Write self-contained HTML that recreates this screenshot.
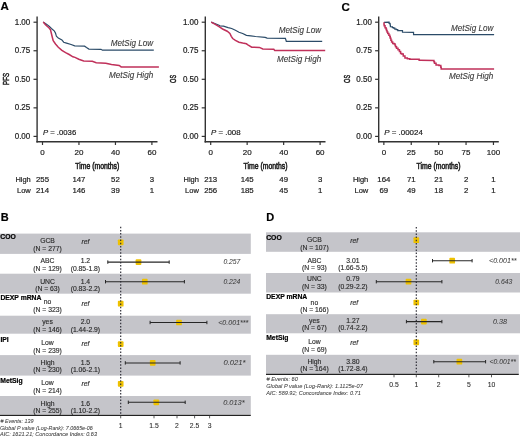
<!DOCTYPE html>
<html><head><meta charset="utf-8"><style>
html,body{margin:0;padding:0;background:#fff;}
svg{display:block;font-family:"Liberation Sans", sans-serif;will-change:transform;}
text{stroke-width:0.2px;}
</style></head><body>
<svg width="520" height="438" viewBox="0 0 520 438" fill="#222">
<text x="0.40" y="10.30" font-size="11.5" text-anchor="start" font-weight="bold" fill="#000" stroke="#000">A</text>
<text x="341.50" y="10.70" font-size="11.5" text-anchor="start" font-weight="bold" fill="#000" stroke="#000">C</text>
<text x="0.70" y="221.00" font-size="11" text-anchor="start" font-weight="bold" fill="#000" stroke="#000">B</text>
<text x="266.30" y="221.00" font-size="11" text-anchor="start" font-weight="bold" fill="#000" stroke="#000">D</text>
<line x1="37.10" y1="16.60" x2="37.10" y2="142.40" stroke="#333" stroke-width="1.4"/>
<line x1="36.40" y1="141.70" x2="157.50" y2="141.70" stroke="#333" stroke-width="1.4"/>
<line x1="33.50" y1="22.20" x2="37.10" y2="22.20" stroke="#333" stroke-width="1.2"/>
<text x="30.30" y="24.70" font-size="8.2" text-anchor="end" fill="#222" stroke="#222" textLength="15.60" lengthAdjust="spacingAndGlyphs">1.00</text>
<line x1="33.50" y1="50.75" x2="37.10" y2="50.75" stroke="#333" stroke-width="1.2"/>
<text x="30.30" y="53.25" font-size="8.2" text-anchor="end" fill="#222" stroke="#222" textLength="15.60" lengthAdjust="spacingAndGlyphs">0.75</text>
<line x1="33.50" y1="79.30" x2="37.10" y2="79.30" stroke="#333" stroke-width="1.2"/>
<text x="30.30" y="81.80" font-size="8.2" text-anchor="end" fill="#222" stroke="#222" textLength="15.60" lengthAdjust="spacingAndGlyphs">0.50</text>
<line x1="33.50" y1="107.85" x2="37.10" y2="107.85" stroke="#333" stroke-width="1.2"/>
<text x="30.30" y="110.35" font-size="8.2" text-anchor="end" fill="#222" stroke="#222" textLength="15.60" lengthAdjust="spacingAndGlyphs">0.25</text>
<line x1="33.50" y1="136.40" x2="37.10" y2="136.40" stroke="#333" stroke-width="1.2"/>
<text x="30.30" y="138.90" font-size="8.2" text-anchor="end" fill="#222" stroke="#222" textLength="15.60" lengthAdjust="spacingAndGlyphs">0.00</text>
<line x1="42.50" y1="141.70" x2="42.50" y2="145.00" stroke="#333" stroke-width="1.2"/>
<text x="42.50" y="155.40" font-size="8.1" text-anchor="middle" fill="#222" stroke="#222" textLength="4.45" lengthAdjust="spacingAndGlyphs">0</text>
<line x1="78.95" y1="141.70" x2="78.95" y2="145.00" stroke="#333" stroke-width="1.2"/>
<text x="78.95" y="155.40" font-size="8.1" text-anchor="middle" fill="#222" stroke="#222" textLength="8.90" lengthAdjust="spacingAndGlyphs">20</text>
<line x1="115.45" y1="141.70" x2="115.45" y2="145.00" stroke="#333" stroke-width="1.2"/>
<text x="115.45" y="155.40" font-size="8.1" text-anchor="middle" fill="#222" stroke="#222" textLength="8.90" lengthAdjust="spacingAndGlyphs">40</text>
<line x1="151.90" y1="141.70" x2="151.90" y2="145.00" stroke="#333" stroke-width="1.2"/>
<text x="151.90" y="155.40" font-size="8.1" text-anchor="middle" fill="#222" stroke="#222" textLength="8.90" lengthAdjust="spacingAndGlyphs">60</text>
<text x="0" y="0" font-size="9.8" text-anchor="middle" fill="#222" stroke="#222" style="stroke-width:0.5px" textLength="12.00" lengthAdjust="spacingAndGlyphs" transform="translate(8.50,78.9) rotate(-90)">PFS</text>
<text x="97.30" y="168.60" font-size="9.4" text-anchor="middle" fill="#222" stroke="#222" textLength="44.00" lengthAdjust="spacingAndGlyphs" style="stroke-width:0.6px">Time (months)</text>
<text x="42.90" y="134.8" font-size="8.0" fill="#222" stroke="#222" textLength="33.30" lengthAdjust="spacingAndGlyphs"><tspan font-style="italic">P</tspan> = .0036</text>
<text x="30.80" y="181.50" font-size="7.7" text-anchor="end" fill="#222" stroke="#222" textLength="15.40" lengthAdjust="spacingAndGlyphs">High</text>
<text x="30.80" y="193.00" font-size="7.7" text-anchor="end" fill="#222" stroke="#222" textLength="13.80" lengthAdjust="spacingAndGlyphs">Low</text>
<text x="42.50" y="181.50" font-size="7.7" text-anchor="middle" fill="#222" stroke="#222" textLength="13.05" lengthAdjust="spacingAndGlyphs">255</text>
<text x="42.50" y="193.00" font-size="7.7" text-anchor="middle" fill="#222" stroke="#222" textLength="13.05" lengthAdjust="spacingAndGlyphs">214</text>
<text x="78.95" y="181.50" font-size="7.7" text-anchor="middle" fill="#222" stroke="#222" textLength="13.05" lengthAdjust="spacingAndGlyphs">147</text>
<text x="78.95" y="193.00" font-size="7.7" text-anchor="middle" fill="#222" stroke="#222" textLength="13.05" lengthAdjust="spacingAndGlyphs">146</text>
<text x="115.45" y="181.50" font-size="7.7" text-anchor="middle" fill="#222" stroke="#222" textLength="8.70" lengthAdjust="spacingAndGlyphs">52</text>
<text x="115.45" y="193.00" font-size="7.7" text-anchor="middle" fill="#222" stroke="#222" textLength="8.70" lengthAdjust="spacingAndGlyphs">39</text>
<text x="151.90" y="181.50" font-size="7.7" text-anchor="middle" fill="#222" stroke="#222" textLength="4.35" lengthAdjust="spacingAndGlyphs">3</text>
<text x="151.90" y="193.00" font-size="7.7" text-anchor="middle" fill="#222" stroke="#222" textLength="4.35" lengthAdjust="spacingAndGlyphs">1</text>
<line x1="205.30" y1="16.60" x2="205.30" y2="142.40" stroke="#333" stroke-width="1.4"/>
<line x1="204.60" y1="141.70" x2="325.50" y2="141.70" stroke="#333" stroke-width="1.4"/>
<line x1="201.70" y1="22.20" x2="205.30" y2="22.20" stroke="#333" stroke-width="1.2"/>
<text x="198.50" y="24.70" font-size="8.2" text-anchor="end" fill="#222" stroke="#222" textLength="15.60" lengthAdjust="spacingAndGlyphs">1.00</text>
<line x1="201.70" y1="50.75" x2="205.30" y2="50.75" stroke="#333" stroke-width="1.2"/>
<text x="198.50" y="53.25" font-size="8.2" text-anchor="end" fill="#222" stroke="#222" textLength="15.60" lengthAdjust="spacingAndGlyphs">0.75</text>
<line x1="201.70" y1="79.30" x2="205.30" y2="79.30" stroke="#333" stroke-width="1.2"/>
<text x="198.50" y="81.80" font-size="8.2" text-anchor="end" fill="#222" stroke="#222" textLength="15.60" lengthAdjust="spacingAndGlyphs">0.50</text>
<line x1="201.70" y1="107.85" x2="205.30" y2="107.85" stroke="#333" stroke-width="1.2"/>
<text x="198.50" y="110.35" font-size="8.2" text-anchor="end" fill="#222" stroke="#222" textLength="15.60" lengthAdjust="spacingAndGlyphs">0.25</text>
<line x1="201.70" y1="136.40" x2="205.30" y2="136.40" stroke="#333" stroke-width="1.2"/>
<text x="198.50" y="138.90" font-size="8.2" text-anchor="end" fill="#222" stroke="#222" textLength="15.60" lengthAdjust="spacingAndGlyphs">0.00</text>
<line x1="210.70" y1="141.70" x2="210.70" y2="145.00" stroke="#333" stroke-width="1.2"/>
<text x="210.70" y="155.40" font-size="8.1" text-anchor="middle" fill="#222" stroke="#222" textLength="4.45" lengthAdjust="spacingAndGlyphs">0</text>
<line x1="247.15" y1="141.70" x2="247.15" y2="145.00" stroke="#333" stroke-width="1.2"/>
<text x="247.15" y="155.40" font-size="8.1" text-anchor="middle" fill="#222" stroke="#222" textLength="8.90" lengthAdjust="spacingAndGlyphs">20</text>
<line x1="283.65" y1="141.70" x2="283.65" y2="145.00" stroke="#333" stroke-width="1.2"/>
<text x="283.65" y="155.40" font-size="8.1" text-anchor="middle" fill="#222" stroke="#222" textLength="8.90" lengthAdjust="spacingAndGlyphs">40</text>
<line x1="320.10" y1="141.70" x2="320.10" y2="145.00" stroke="#333" stroke-width="1.2"/>
<text x="320.10" y="155.40" font-size="8.1" text-anchor="middle" fill="#222" stroke="#222" textLength="8.90" lengthAdjust="spacingAndGlyphs">60</text>
<text x="0" y="0" font-size="9.8" text-anchor="middle" fill="#222" stroke="#222" style="stroke-width:0.5px" textLength="8.00" lengthAdjust="spacingAndGlyphs" transform="translate(176.40,78.9) rotate(-90)">OS</text>
<text x="265.50" y="168.60" font-size="9.4" text-anchor="middle" fill="#222" stroke="#222" textLength="44.00" lengthAdjust="spacingAndGlyphs" style="stroke-width:0.6px">Time (months)</text>
<text x="211.10" y="134.8" font-size="8.0" fill="#222" stroke="#222" textLength="29.50" lengthAdjust="spacingAndGlyphs"><tspan font-style="italic">P</tspan> = .008</text>
<text x="198.90" y="181.50" font-size="7.7" text-anchor="end" fill="#222" stroke="#222" textLength="15.40" lengthAdjust="spacingAndGlyphs">High</text>
<text x="198.90" y="193.00" font-size="7.7" text-anchor="end" fill="#222" stroke="#222" textLength="13.80" lengthAdjust="spacingAndGlyphs">Low</text>
<text x="210.70" y="181.50" font-size="7.7" text-anchor="middle" fill="#222" stroke="#222" textLength="13.05" lengthAdjust="spacingAndGlyphs">213</text>
<text x="210.70" y="193.00" font-size="7.7" text-anchor="middle" fill="#222" stroke="#222" textLength="13.05" lengthAdjust="spacingAndGlyphs">256</text>
<text x="247.15" y="181.50" font-size="7.7" text-anchor="middle" fill="#222" stroke="#222" textLength="13.05" lengthAdjust="spacingAndGlyphs">145</text>
<text x="247.15" y="193.00" font-size="7.7" text-anchor="middle" fill="#222" stroke="#222" textLength="13.05" lengthAdjust="spacingAndGlyphs">185</text>
<text x="283.65" y="181.50" font-size="7.7" text-anchor="middle" fill="#222" stroke="#222" textLength="8.70" lengthAdjust="spacingAndGlyphs">49</text>
<text x="283.65" y="193.00" font-size="7.7" text-anchor="middle" fill="#222" stroke="#222" textLength="8.70" lengthAdjust="spacingAndGlyphs">45</text>
<text x="320.10" y="181.50" font-size="7.7" text-anchor="middle" fill="#222" stroke="#222" textLength="4.35" lengthAdjust="spacingAndGlyphs">3</text>
<text x="320.10" y="193.00" font-size="7.7" text-anchor="middle" fill="#222" stroke="#222" textLength="4.35" lengthAdjust="spacingAndGlyphs">1</text>
<line x1="378.70" y1="16.60" x2="378.70" y2="142.40" stroke="#333" stroke-width="1.4"/>
<line x1="378.00" y1="141.70" x2="498.80" y2="141.70" stroke="#333" stroke-width="1.4"/>
<line x1="375.10" y1="22.20" x2="378.70" y2="22.20" stroke="#333" stroke-width="1.2"/>
<text x="371.90" y="24.70" font-size="8.2" text-anchor="end" fill="#222" stroke="#222" textLength="15.60" lengthAdjust="spacingAndGlyphs">1.00</text>
<line x1="375.10" y1="50.75" x2="378.70" y2="50.75" stroke="#333" stroke-width="1.2"/>
<text x="371.90" y="53.25" font-size="8.2" text-anchor="end" fill="#222" stroke="#222" textLength="15.60" lengthAdjust="spacingAndGlyphs">0.75</text>
<line x1="375.10" y1="79.30" x2="378.70" y2="79.30" stroke="#333" stroke-width="1.2"/>
<text x="371.90" y="81.80" font-size="8.2" text-anchor="end" fill="#222" stroke="#222" textLength="15.60" lengthAdjust="spacingAndGlyphs">0.50</text>
<line x1="375.10" y1="107.85" x2="378.70" y2="107.85" stroke="#333" stroke-width="1.2"/>
<text x="371.90" y="110.35" font-size="8.2" text-anchor="end" fill="#222" stroke="#222" textLength="15.60" lengthAdjust="spacingAndGlyphs">0.25</text>
<line x1="375.10" y1="136.40" x2="378.70" y2="136.40" stroke="#333" stroke-width="1.2"/>
<text x="371.90" y="138.90" font-size="8.2" text-anchor="end" fill="#222" stroke="#222" textLength="15.60" lengthAdjust="spacingAndGlyphs">0.00</text>
<line x1="383.85" y1="141.70" x2="383.85" y2="145.00" stroke="#333" stroke-width="1.2"/>
<text x="383.85" y="155.40" font-size="8.1" text-anchor="middle" fill="#222" stroke="#222" textLength="4.45" lengthAdjust="spacingAndGlyphs">0</text>
<line x1="411.25" y1="141.70" x2="411.25" y2="145.00" stroke="#333" stroke-width="1.2"/>
<text x="411.25" y="155.40" font-size="8.1" text-anchor="middle" fill="#222" stroke="#222" textLength="8.90" lengthAdjust="spacingAndGlyphs">25</text>
<line x1="438.65" y1="141.70" x2="438.65" y2="145.00" stroke="#333" stroke-width="1.2"/>
<text x="438.65" y="155.40" font-size="8.1" text-anchor="middle" fill="#222" stroke="#222" textLength="8.90" lengthAdjust="spacingAndGlyphs">50</text>
<line x1="466.05" y1="141.70" x2="466.05" y2="145.00" stroke="#333" stroke-width="1.2"/>
<text x="466.05" y="155.40" font-size="8.1" text-anchor="middle" fill="#222" stroke="#222" textLength="8.90" lengthAdjust="spacingAndGlyphs">75</text>
<line x1="493.45" y1="141.70" x2="493.45" y2="145.00" stroke="#333" stroke-width="1.2"/>
<text x="493.45" y="155.40" font-size="8.1" text-anchor="middle" fill="#222" stroke="#222" textLength="13.35" lengthAdjust="spacingAndGlyphs">100</text>
<text x="0" y="0" font-size="9.8" text-anchor="middle" fill="#222" stroke="#222" style="stroke-width:0.5px" textLength="8.00" lengthAdjust="spacingAndGlyphs" transform="translate(349.50,78.9) rotate(-90)">OS</text>
<text x="438.60" y="168.60" font-size="9.4" text-anchor="middle" fill="#222" stroke="#222" textLength="44.00" lengthAdjust="spacingAndGlyphs" style="stroke-width:0.6px">Time (months)</text>
<text x="384.25" y="134.8" font-size="8.0" fill="#222" stroke="#222" textLength="38.60" lengthAdjust="spacingAndGlyphs"><tspan font-style="italic">P</tspan> = .00024</text>
<text x="368.30" y="181.50" font-size="7.7" text-anchor="end" fill="#222" stroke="#222" textLength="15.40" lengthAdjust="spacingAndGlyphs">High</text>
<text x="368.30" y="193.00" font-size="7.7" text-anchor="end" fill="#222" stroke="#222" textLength="13.80" lengthAdjust="spacingAndGlyphs">Low</text>
<text x="383.85" y="181.50" font-size="7.7" text-anchor="middle" fill="#222" stroke="#222" textLength="13.05" lengthAdjust="spacingAndGlyphs">164</text>
<text x="383.85" y="193.00" font-size="7.7" text-anchor="middle" fill="#222" stroke="#222" textLength="8.70" lengthAdjust="spacingAndGlyphs">69</text>
<text x="411.25" y="181.50" font-size="7.7" text-anchor="middle" fill="#222" stroke="#222" textLength="8.70" lengthAdjust="spacingAndGlyphs">71</text>
<text x="411.25" y="193.00" font-size="7.7" text-anchor="middle" fill="#222" stroke="#222" textLength="8.70" lengthAdjust="spacingAndGlyphs">49</text>
<text x="438.65" y="181.50" font-size="7.7" text-anchor="middle" fill="#222" stroke="#222" textLength="8.70" lengthAdjust="spacingAndGlyphs">21</text>
<text x="438.65" y="193.00" font-size="7.7" text-anchor="middle" fill="#222" stroke="#222" textLength="8.70" lengthAdjust="spacingAndGlyphs">18</text>
<text x="466.05" y="181.50" font-size="7.7" text-anchor="middle" fill="#222" stroke="#222" textLength="4.35" lengthAdjust="spacingAndGlyphs">2</text>
<text x="466.05" y="193.00" font-size="7.7" text-anchor="middle" fill="#222" stroke="#222" textLength="4.35" lengthAdjust="spacingAndGlyphs">2</text>
<text x="493.45" y="181.50" font-size="7.7" text-anchor="middle" fill="#222" stroke="#222" textLength="4.35" lengthAdjust="spacingAndGlyphs">1</text>
<text x="493.45" y="193.00" font-size="7.7" text-anchor="middle" fill="#222" stroke="#222" textLength="4.35" lengthAdjust="spacingAndGlyphs">1</text>
<polyline points="43.20,22.10 46.80,24.40 49.10,26.20 51.40,28.50 54.20,30.80 55.50,33.10 56.40,36.30 58.30,38.10 61.90,39.90 63.70,42.20 66.50,43.10 71.10,44.50 74.70,45.90 84.60,46.20 86.50,47.60 88.90,49.10 101.00,49.30 102.40,50.20 153.80,50.20" fill="none" stroke="#2b4b68" stroke-width="1.2" stroke-linejoin="miter"/>
<polyline points="211.20,22.10 219.00,25.30 219.90,25.80 223.50,26.20 228.10,27.60 231.70,28.50 235.40,30.30 239.00,32.20 242.70,33.50 246.40,35.40 250.80,35.90 255.60,36.50 265.20,37.40 267.10,38.10 285.40,38.40 286.30,41.30 322.20,41.30" fill="none" stroke="#2b4b68" stroke-width="1.2" stroke-linejoin="miter"/>
<polyline points="384.00,22.30 388.60,22.20 389.10,22.20 389.10,23.40 389.60,23.40 389.85,23.40 389.85,23.80 390.10,23.80 390.20,23.80 390.20,25.25 390.40,25.25 390.40,26.70 390.50,26.70 392.00,26.90 392.45,26.90 392.45,27.70 392.90,27.70 393.65,27.70 393.65,28.10 394.40,28.10 394.85,28.10 394.85,29.10 395.30,29.10 396.30,29.10 396.30,29.60 397.30,29.60 397.75,29.60 397.75,30.60 398.20,30.60 402.00,30.70 402.50,30.70 402.50,32.10 403.00,32.10 413.10,32.30 413.55,32.30 413.55,34.60 414.00,34.60 494.10,34.70" fill="none" stroke="#2b4b68" stroke-width="1.2" stroke-linejoin="miter"/>
<polyline points="43.20,22.10 45.50,24.80 49.10,28.00 50.50,29.90 51.40,33.50 52.30,37.20 53.20,40.80 55.50,44.00 58.30,47.20 61.90,50.40 65.60,52.70 69.20,54.50 72.90,56.80 75.00,57.40 78.80,59.20 83.70,60.90 92.30,61.30 96.20,62.80 105.80,63.20 111.50,64.40 119.20,65.40 121.20,66.90 158.90,66.90" fill="none" stroke="#c0305a" stroke-width="1.5" stroke-linejoin="miter"/>
<polyline points="211.20,22.10 215.30,24.40 219.00,26.70 222.60,29.00 227.20,31.20 229.90,33.50 231.30,36.30 232.70,38.50 235.40,40.40 239.00,42.20 242.70,43.10 246.40,43.80 247.90,44.80 251.70,47.20 259.40,47.40 262.80,49.00 273.80,49.20 274.80,50.60 325.20,50.60" fill="none" stroke="#c0305a" stroke-width="1.5" stroke-linejoin="miter"/>
<polyline points="384.00,22.30 384.00,24.30 384.15,24.30 384.15,25.80 384.30,25.80 385.05,25.80 385.05,27.70 385.80,27.70 386.02,27.70 386.02,29.10 386.48,29.10 386.48,30.50 386.70,30.50 387.05,30.50 387.05,31.95 387.75,31.95 387.75,33.40 388.10,33.40 388.85,33.40 388.85,35.30 389.60,35.30 389.83,35.30 389.83,36.75 390.27,36.75 390.27,38.20 390.50,38.20 390.88,38.20 390.88,40.15 391.62,40.15 391.62,42.10 392.00,42.10 392.70,42.10 392.70,43.50 393.40,43.50 394.15,43.50 394.15,44.00 394.90,44.00 395.12,44.00 395.12,45.40 395.57,45.40 395.57,46.80 395.80,46.80 396.55,46.80 396.55,48.30 397.30,48.30 398.00,48.30 398.00,49.70 398.70,49.70 399.40,49.70 399.40,51.60 400.10,51.60 400.60,51.60 400.60,53.60 401.10,53.60 401.80,53.60 401.80,54.00 402.50,54.00 403.25,54.00 403.25,56.00 404.00,56.00 404.95,56.00 404.95,57.90 405.90,57.90 407.35,57.90 407.35,58.80 408.80,58.80 409.75,58.80 409.75,59.20 410.70,59.20 417.90,59.20 419.15,59.20 419.15,60.20 420.40,60.20 433.60,60.40 433.90,60.40 433.90,61.85 434.50,61.85 434.50,63.30 434.80,63.30 436.05,63.30 436.05,64.90 437.30,64.90 438.95,64.90 438.95,65.60 440.60,65.60 440.80,65.60 440.80,67.25 441.20,67.25 441.20,68.90 441.40,68.90 494.10,68.90" fill="none" stroke="#c0305a" stroke-width="1.5" stroke-linejoin="miter"/>
<text x="153.20" y="46.00" font-size="8.3" text-anchor="end" font-style="italic" fill="#383838" stroke="#383838" textLength="42.40" lengthAdjust="spacingAndGlyphs" style="stroke-width:0.1px">MetSig Low</text>
<text x="153.20" y="78.30" font-size="8.3" text-anchor="end" font-style="italic" fill="#383838" stroke="#383838" textLength="44.20" lengthAdjust="spacingAndGlyphs" style="stroke-width:0.1px">MetSig High</text>
<text x="321.20" y="32.60" font-size="8.3" text-anchor="end" font-style="italic" fill="#383838" stroke="#383838" textLength="42.40" lengthAdjust="spacingAndGlyphs" style="stroke-width:0.1px">MetSig Low</text>
<text x="321.20" y="62.40" font-size="8.3" text-anchor="end" font-style="italic" fill="#383838" stroke="#383838" textLength="44.20" lengthAdjust="spacingAndGlyphs" style="stroke-width:0.1px">MetSig High</text>
<text x="493.30" y="30.50" font-size="8.3" text-anchor="end" font-style="italic" fill="#383838" stroke="#383838" textLength="42.40" lengthAdjust="spacingAndGlyphs" style="stroke-width:0.1px">MetSig Low</text>
<text x="493.30" y="78.90" font-size="8.3" text-anchor="end" font-style="italic" fill="#383838" stroke="#383838" textLength="44.20" lengthAdjust="spacingAndGlyphs" style="stroke-width:0.1px">MetSig High</text>
<rect x="0.00" y="233.60" width="250.80" height="20.30" fill="#c5c5ca"/>
<rect x="0.00" y="273.70" width="250.80" height="20.00" fill="#c5c5ca"/>
<rect x="0.00" y="315.70" width="250.80" height="18.00" fill="#c5c5ca"/>
<rect x="0.00" y="355.10" width="250.80" height="20.50" fill="#c5c5ca"/>
<rect x="0.00" y="396.00" width="250.80" height="18.60" fill="#c5c5ca"/>
<text x="47.50" y="243.00" font-size="6.8" text-anchor="middle" fill="#2a2a2a" stroke="#2a2a2a" style="stroke-width:0.14px">GCB</text>
<text x="47.50" y="250.90" font-size="6.8" text-anchor="middle" fill="#2a2a2a" stroke="#2a2a2a" style="stroke-width:0.14px">(N = 277)</text>
<text x="85.40" y="244.20" font-size="6.8" text-anchor="middle" font-style="italic" fill="#2a2a2a" stroke="#2a2a2a" style="stroke-width:0.14px">ref</text>
<rect x="117.85" y="239.45" width="5.7" height="5.7" rx="0.9" fill="#eec100"/>
<text x="47.50" y="263.20" font-size="6.8" text-anchor="middle" fill="#2a2a2a" stroke="#2a2a2a" style="stroke-width:0.14px">ABC</text>
<text x="47.50" y="270.80" font-size="6.8" text-anchor="middle" fill="#2a2a2a" stroke="#2a2a2a" style="stroke-width:0.14px">(N = 129)</text>
<text x="85.40" y="263.20" font-size="6.8" text-anchor="middle" fill="#2a2a2a" stroke="#2a2a2a" style="stroke-width:0.14px">1.2</text>
<text x="85.40" y="270.80" font-size="6.8" text-anchor="middle" fill="#2a2a2a" stroke="#2a2a2a" style="stroke-width:0.14px">(0.85-1.8)</text>
<text x="223.40" y="264.30" font-size="6.6" text-anchor="start" font-style="italic" fill="#3c3c3c" stroke="#3c3c3c" textLength="17.00" lengthAdjust="spacingAndGlyphs" style="stroke-width:0.05px">0.257</text>
<rect x="135.65" y="259.25" width="5.7" height="5.7" rx="0.9" fill="#eec100"/>
<line x1="107.80" y1="262.10" x2="169.20" y2="262.10" stroke="#262626" stroke-width="1.05"/>
<line x1="107.80" y1="260.40" x2="107.80" y2="263.80" stroke="#262626" stroke-width="1.0"/>
<line x1="169.20" y1="260.40" x2="169.20" y2="263.80" stroke="#262626" stroke-width="1.0"/>
<text x="47.50" y="283.60" font-size="6.8" text-anchor="middle" fill="#2a2a2a" stroke="#2a2a2a" style="stroke-width:0.14px">UNC</text>
<text x="47.50" y="291.40" font-size="6.8" text-anchor="middle" fill="#2a2a2a" stroke="#2a2a2a" style="stroke-width:0.14px">(N = 63)</text>
<text x="85.40" y="283.60" font-size="6.8" text-anchor="middle" fill="#2a2a2a" stroke="#2a2a2a" style="stroke-width:0.14px">1.4</text>
<text x="85.40" y="291.40" font-size="6.8" text-anchor="middle" fill="#2a2a2a" stroke="#2a2a2a" style="stroke-width:0.14px">(0.83-2.2)</text>
<text x="223.40" y="283.90" font-size="6.6" text-anchor="start" font-style="italic" fill="#3c3c3c" stroke="#3c3c3c" textLength="17.00" lengthAdjust="spacingAndGlyphs" style="stroke-width:0.05px">0.224</text>
<rect x="141.95" y="278.85" width="5.7" height="5.7" rx="0.9" fill="#eec100"/>
<line x1="105.50" y1="281.70" x2="184.40" y2="281.70" stroke="#262626" stroke-width="1.05"/>
<line x1="105.50" y1="280.00" x2="105.50" y2="283.40" stroke="#262626" stroke-width="1.0"/>
<line x1="184.40" y1="280.00" x2="184.40" y2="283.40" stroke="#262626" stroke-width="1.0"/>
<text x="47.50" y="304.40" font-size="6.8" text-anchor="middle" fill="#2a2a2a" stroke="#2a2a2a" style="stroke-width:0.14px">no</text>
<text x="47.50" y="312.00" font-size="6.8" text-anchor="middle" fill="#2a2a2a" stroke="#2a2a2a" style="stroke-width:0.14px">(N = 323)</text>
<text x="85.40" y="305.60" font-size="6.8" text-anchor="middle" font-style="italic" fill="#2a2a2a" stroke="#2a2a2a" style="stroke-width:0.14px">ref</text>
<rect x="117.85" y="300.85" width="5.7" height="5.7" rx="0.9" fill="#eec100"/>
<text x="47.50" y="324.30" font-size="6.8" text-anchor="middle" fill="#2a2a2a" stroke="#2a2a2a" style="stroke-width:0.14px">yes</text>
<text x="47.50" y="331.80" font-size="6.8" text-anchor="middle" fill="#2a2a2a" stroke="#2a2a2a" style="stroke-width:0.14px">(N = 146)</text>
<text x="85.40" y="324.30" font-size="6.8" text-anchor="middle" fill="#2a2a2a" stroke="#2a2a2a" style="stroke-width:0.14px">2.0</text>
<text x="85.40" y="331.80" font-size="6.8" text-anchor="middle" fill="#2a2a2a" stroke="#2a2a2a" style="stroke-width:0.14px">(1.44-2.9)</text>
<text x="218.20" y="324.70" font-size="6.6" text-anchor="start" font-style="italic" fill="#3c3c3c" stroke="#3c3c3c" textLength="30.20" lengthAdjust="spacingAndGlyphs" style="stroke-width:0.05px">&lt;0.001***</text>
<rect x="176.15" y="319.65" width="5.7" height="5.7" rx="0.9" fill="#eec100"/>
<line x1="150.10" y1="322.50" x2="206.90" y2="322.50" stroke="#262626" stroke-width="1.05"/>
<line x1="150.10" y1="320.80" x2="150.10" y2="324.20" stroke="#262626" stroke-width="1.0"/>
<line x1="206.90" y1="320.80" x2="206.90" y2="324.20" stroke="#262626" stroke-width="1.0"/>
<text x="47.50" y="344.80" font-size="6.8" text-anchor="middle" fill="#2a2a2a" stroke="#2a2a2a" style="stroke-width:0.14px">Low</text>
<text x="47.50" y="352.60" font-size="6.8" text-anchor="middle" fill="#2a2a2a" stroke="#2a2a2a" style="stroke-width:0.14px">(N = 239)</text>
<text x="85.40" y="346.00" font-size="6.8" text-anchor="middle" font-style="italic" fill="#2a2a2a" stroke="#2a2a2a" style="stroke-width:0.14px">ref</text>
<rect x="117.85" y="341.25" width="5.7" height="5.7" rx="0.9" fill="#eec100"/>
<text x="47.50" y="364.60" font-size="6.8" text-anchor="middle" fill="#2a2a2a" stroke="#2a2a2a" style="stroke-width:0.14px">High</text>
<text x="47.50" y="372.20" font-size="6.8" text-anchor="middle" fill="#2a2a2a" stroke="#2a2a2a" style="stroke-width:0.14px">(N = 230)</text>
<text x="85.40" y="364.60" font-size="6.8" text-anchor="middle" fill="#2a2a2a" stroke="#2a2a2a" style="stroke-width:0.14px">1.5</text>
<text x="85.40" y="372.20" font-size="6.8" text-anchor="middle" fill="#2a2a2a" stroke="#2a2a2a" style="stroke-width:0.14px">(1.06-2.1)</text>
<text x="223.40" y="365.10" font-size="6.6" text-anchor="start" font-style="italic" fill="#3c3c3c" stroke="#3c3c3c" textLength="22.20" lengthAdjust="spacingAndGlyphs" style="stroke-width:0.05px">0.021*</text>
<rect x="149.85" y="360.05" width="5.7" height="5.7" rx="0.9" fill="#eec100"/>
<line x1="125.30" y1="362.90" x2="180.10" y2="362.90" stroke="#262626" stroke-width="1.05"/>
<line x1="125.30" y1="361.20" x2="125.30" y2="364.60" stroke="#262626" stroke-width="1.0"/>
<line x1="180.10" y1="361.20" x2="180.10" y2="364.60" stroke="#262626" stroke-width="1.0"/>
<text x="47.50" y="385.10" font-size="6.8" text-anchor="middle" fill="#2a2a2a" stroke="#2a2a2a" style="stroke-width:0.14px">Low</text>
<text x="47.50" y="393.00" font-size="6.8" text-anchor="middle" fill="#2a2a2a" stroke="#2a2a2a" style="stroke-width:0.14px">(N = 214)</text>
<text x="85.40" y="386.30" font-size="6.8" text-anchor="middle" font-style="italic" fill="#2a2a2a" stroke="#2a2a2a" style="stroke-width:0.14px">ref</text>
<rect x="117.85" y="380.95" width="5.7" height="5.7" rx="0.9" fill="#eec100"/>
<text x="47.50" y="405.60" font-size="6.8" text-anchor="middle" fill="#2a2a2a" stroke="#2a2a2a" style="stroke-width:0.14px">High</text>
<text x="47.50" y="413.20" font-size="6.8" text-anchor="middle" fill="#2a2a2a" stroke="#2a2a2a" style="stroke-width:0.14px">(N = 255)</text>
<text x="85.40" y="405.60" font-size="6.8" text-anchor="middle" fill="#2a2a2a" stroke="#2a2a2a" style="stroke-width:0.14px">1.6</text>
<text x="85.40" y="413.20" font-size="6.8" text-anchor="middle" fill="#2a2a2a" stroke="#2a2a2a" style="stroke-width:0.14px">(1.10-2.2)</text>
<text x="223.20" y="404.50" font-size="6.6" text-anchor="start" font-style="italic" fill="#3c3c3c" stroke="#3c3c3c" textLength="21.40" lengthAdjust="spacingAndGlyphs" style="stroke-width:0.05px">0.013*</text>
<rect x="153.45" y="399.45" width="5.7" height="5.7" rx="0.9" fill="#eec100"/>
<line x1="128.30" y1="402.30" x2="185.20" y2="402.30" stroke="#262626" stroke-width="1.05"/>
<line x1="128.30" y1="400.60" x2="128.30" y2="404.00" stroke="#262626" stroke-width="1.0"/>
<line x1="185.20" y1="400.60" x2="185.20" y2="404.00" stroke="#262626" stroke-width="1.0"/>
<line x1="120.70" y1="226.70" x2="120.70" y2="415.30" stroke="#2a2a33" stroke-width="1.15" stroke-dasharray="1.5 1.7"/>
<line x1="0.00" y1="415.30" x2="250.80" y2="415.30" stroke="#222" stroke-width="1.2"/>
<text x="0.30" y="239.20" font-size="6.8" text-anchor="start" font-weight="bold" fill="#000" stroke="#000">COO</text>
<text x="0.40" y="300.40" font-size="6.8" text-anchor="start" font-weight="bold" fill="#000" stroke="#000">DEXP mRNA</text>
<text x="0.40" y="341.80" font-size="6.8" text-anchor="start" font-weight="bold" fill="#000" stroke="#000">IPI</text>
<text x="0.30" y="382.50" font-size="6.8" text-anchor="start" font-weight="bold" fill="#000" stroke="#000">MetSig</text>
<line x1="120.70" y1="415.30" x2="120.70" y2="418.30" stroke="#333" stroke-width="0.8"/>
<text x="120.70" y="428.20" font-size="6.8" text-anchor="middle" fill="#2a2a2a" stroke="#2a2a2a" style="stroke-width:0.08px">1</text>
<line x1="154.00" y1="415.30" x2="154.00" y2="418.30" stroke="#333" stroke-width="0.8"/>
<text x="154.00" y="428.20" font-size="6.8" text-anchor="middle" fill="#2a2a2a" stroke="#2a2a2a" style="stroke-width:0.08px">1.5</text>
<line x1="177.00" y1="415.30" x2="177.00" y2="418.30" stroke="#333" stroke-width="0.8"/>
<text x="177.00" y="428.20" font-size="6.8" text-anchor="middle" fill="#2a2a2a" stroke="#2a2a2a" style="stroke-width:0.08px">2</text>
<line x1="194.60" y1="415.30" x2="194.60" y2="418.30" stroke="#333" stroke-width="0.8"/>
<text x="194.60" y="428.20" font-size="6.8" text-anchor="middle" fill="#2a2a2a" stroke="#2a2a2a" style="stroke-width:0.08px">2.5</text>
<line x1="209.60" y1="415.30" x2="209.60" y2="418.30" stroke="#333" stroke-width="0.8"/>
<text x="209.60" y="428.20" font-size="6.8" text-anchor="middle" fill="#2a2a2a" stroke="#2a2a2a" style="stroke-width:0.08px">3</text>
<text x="0.5" y="422.5" font-size="5.6" font-style="italic" fill="#3a3a3a" stroke="#3a3a3a" style="stroke-width:0.05px" textLength="33.0" lengthAdjust="spacingAndGlyphs"># Events: 139</text>
<text x="0.0" y="429.6" font-size="5.6" font-style="italic" fill="#3a3a3a" stroke="#3a3a3a" style="stroke-width:0.05px" textLength="92.8" lengthAdjust="spacingAndGlyphs">Global P value (Log-Rank): 7.0665e-06</text>
<text x="0.0" y="436.4" font-size="5.6" font-style="italic" fill="#3a3a3a" stroke="#3a3a3a" style="stroke-width:0.05px" textLength="97.0" lengthAdjust="spacingAndGlyphs">AIC: 1621.21; Concordance Index: 0.63</text>
<rect x="266.00" y="232.30" width="254.00" height="19.50" fill="#c5c5ca"/>
<rect x="266.00" y="273.00" width="254.00" height="19.50" fill="#c5c5ca"/>
<rect x="266.00" y="314.20" width="254.00" height="19.10" fill="#c5c5ca"/>
<rect x="266.00" y="354.80" width="252.80" height="19.00" fill="#c5c5ca"/>
<text x="314.40" y="242.30" font-size="6.8" text-anchor="middle" fill="#2a2a2a" stroke="#2a2a2a" style="stroke-width:0.14px">GCB</text>
<text x="314.40" y="250.00" font-size="6.8" text-anchor="middle" fill="#2a2a2a" stroke="#2a2a2a" style="stroke-width:0.14px">(N = 107)</text>
<text x="354.10" y="242.70" font-size="6.8" text-anchor="middle" font-style="italic" fill="#2a2a2a" stroke="#2a2a2a" style="stroke-width:0.14px">ref</text>
<rect x="413.45" y="237.35" width="5.7" height="5.7" rx="0.9" fill="#eec100"/>
<text x="314.40" y="262.50" font-size="6.8" text-anchor="middle" fill="#2a2a2a" stroke="#2a2a2a" style="stroke-width:0.14px">ABC</text>
<text x="314.40" y="269.60" font-size="6.8" text-anchor="middle" fill="#2a2a2a" stroke="#2a2a2a" style="stroke-width:0.14px">(N = 93)</text>
<text x="352.90" y="262.50" font-size="6.8" text-anchor="middle" fill="#2a2a2a" stroke="#2a2a2a" style="stroke-width:0.14px">3.01</text>
<text x="352.90" y="269.60" font-size="6.8" text-anchor="middle" fill="#2a2a2a" stroke="#2a2a2a" style="stroke-width:0.14px">(1.66-5.5)</text>
<text x="489.00" y="262.90" font-size="6.6" text-anchor="start" font-style="italic" fill="#3c3c3c" stroke="#3c3c3c" textLength="27.50" lengthAdjust="spacingAndGlyphs" style="stroke-width:0.05px">&lt;0.001**</text>
<rect x="449.35" y="257.85" width="5.7" height="5.7" rx="0.9" fill="#eec100"/>
<line x1="432.50" y1="260.70" x2="472.10" y2="260.70" stroke="#262626" stroke-width="1.05"/>
<line x1="432.50" y1="259.00" x2="432.50" y2="262.40" stroke="#262626" stroke-width="1.0"/>
<line x1="472.10" y1="259.00" x2="472.10" y2="262.40" stroke="#262626" stroke-width="1.0"/>
<text x="314.40" y="281.30" font-size="6.8" text-anchor="middle" fill="#2a2a2a" stroke="#2a2a2a" style="stroke-width:0.14px">UNC</text>
<text x="314.40" y="288.90" font-size="6.8" text-anchor="middle" fill="#2a2a2a" stroke="#2a2a2a" style="stroke-width:0.14px">(N = 33)</text>
<text x="352.90" y="281.30" font-size="6.8" text-anchor="middle" fill="#2a2a2a" stroke="#2a2a2a" style="stroke-width:0.14px">0.79</text>
<text x="352.90" y="288.90" font-size="6.8" text-anchor="middle" fill="#2a2a2a" stroke="#2a2a2a" style="stroke-width:0.14px">(0.29-2.2)</text>
<text x="495.30" y="283.90" font-size="6.6" text-anchor="start" font-style="italic" fill="#3c3c3c" stroke="#3c3c3c" textLength="17.10" lengthAdjust="spacingAndGlyphs" style="stroke-width:0.05px">0.643</text>
<rect x="405.65" y="278.85" width="5.7" height="5.7" rx="0.9" fill="#eec100"/>
<line x1="376.30" y1="281.70" x2="441.90" y2="281.70" stroke="#262626" stroke-width="1.05"/>
<line x1="376.30" y1="280.00" x2="376.30" y2="283.40" stroke="#262626" stroke-width="1.0"/>
<line x1="441.90" y1="280.00" x2="441.90" y2="283.40" stroke="#262626" stroke-width="1.0"/>
<text x="314.40" y="304.70" font-size="6.8" text-anchor="middle" fill="#2a2a2a" stroke="#2a2a2a" style="stroke-width:0.14px">no</text>
<text x="314.40" y="312.40" font-size="6.8" text-anchor="middle" fill="#2a2a2a" stroke="#2a2a2a" style="stroke-width:0.14px">(N = 166)</text>
<text x="354.10" y="305.10" font-size="6.8" text-anchor="middle" font-style="italic" fill="#2a2a2a" stroke="#2a2a2a" style="stroke-width:0.14px">ref</text>
<rect x="413.45" y="299.65" width="5.7" height="5.7" rx="0.9" fill="#eec100"/>
<text x="314.40" y="322.90" font-size="6.8" text-anchor="middle" fill="#2a2a2a" stroke="#2a2a2a" style="stroke-width:0.14px">yes</text>
<text x="314.40" y="330.40" font-size="6.8" text-anchor="middle" fill="#2a2a2a" stroke="#2a2a2a" style="stroke-width:0.14px">(N = 67)</text>
<text x="352.90" y="322.90" font-size="6.8" text-anchor="middle" fill="#2a2a2a" stroke="#2a2a2a" style="stroke-width:0.14px">1.27</text>
<text x="352.90" y="330.40" font-size="6.8" text-anchor="middle" fill="#2a2a2a" stroke="#2a2a2a" style="stroke-width:0.14px">(0.74-2.2)</text>
<text x="493.00" y="323.80" font-size="6.6" text-anchor="start" font-style="italic" fill="#3c3c3c" stroke="#3c3c3c" textLength="14.10" lengthAdjust="spacingAndGlyphs" style="stroke-width:0.05px">0.38</text>
<rect x="421.05" y="318.75" width="5.7" height="5.7" rx="0.9" fill="#eec100"/>
<line x1="406.40" y1="321.60" x2="441.90" y2="321.60" stroke="#262626" stroke-width="1.05"/>
<line x1="406.40" y1="319.90" x2="406.40" y2="323.30" stroke="#262626" stroke-width="1.0"/>
<line x1="441.90" y1="319.90" x2="441.90" y2="323.30" stroke="#262626" stroke-width="1.0"/>
<text x="314.40" y="344.30" font-size="6.8" text-anchor="middle" fill="#2a2a2a" stroke="#2a2a2a" style="stroke-width:0.14px">Low</text>
<text x="314.40" y="351.90" font-size="6.8" text-anchor="middle" fill="#2a2a2a" stroke="#2a2a2a" style="stroke-width:0.14px">(N = 69)</text>
<text x="354.10" y="344.70" font-size="6.8" text-anchor="middle" font-style="italic" fill="#2a2a2a" stroke="#2a2a2a" style="stroke-width:0.14px">ref</text>
<rect x="413.45" y="339.55" width="5.7" height="5.7" rx="0.9" fill="#eec100"/>
<text x="314.40" y="363.50" font-size="6.8" text-anchor="middle" fill="#2a2a2a" stroke="#2a2a2a" style="stroke-width:0.14px">High</text>
<text x="314.40" y="370.70" font-size="6.8" text-anchor="middle" fill="#2a2a2a" stroke="#2a2a2a" style="stroke-width:0.14px">(N = 164)</text>
<text x="352.90" y="363.50" font-size="6.8" text-anchor="middle" fill="#2a2a2a" stroke="#2a2a2a" style="stroke-width:0.14px">3.80</text>
<text x="352.90" y="370.70" font-size="6.8" text-anchor="middle" fill="#2a2a2a" stroke="#2a2a2a" style="stroke-width:0.14px">(1.72-8.4)</text>
<text x="489.50" y="363.90" font-size="6.6" text-anchor="start" font-style="italic" fill="#3c3c3c" stroke="#3c3c3c" textLength="26.30" lengthAdjust="spacingAndGlyphs" style="stroke-width:0.05px">&lt;0.001**</text>
<rect x="456.55" y="358.85" width="5.7" height="5.7" rx="0.9" fill="#eec100"/>
<line x1="433.80" y1="361.70" x2="485.60" y2="361.70" stroke="#262626" stroke-width="1.05"/>
<line x1="433.80" y1="360.00" x2="433.80" y2="363.40" stroke="#262626" stroke-width="1.0"/>
<line x1="485.60" y1="360.00" x2="485.60" y2="363.40" stroke="#262626" stroke-width="1.0"/>
<line x1="416.30" y1="227.00" x2="416.30" y2="374.30" stroke="#2a2a33" stroke-width="1.15" stroke-dasharray="1.5 1.7"/>
<line x1="266.00" y1="374.30" x2="518.80" y2="374.30" stroke="#222" stroke-width="1.2"/>
<text x="266.20" y="239.80" font-size="6.8" text-anchor="start" font-weight="bold" fill="#000" stroke="#000">COO</text>
<text x="266.20" y="299.30" font-size="6.8" text-anchor="start" font-weight="bold" fill="#000" stroke="#000">DEXP mRNA</text>
<text x="266.20" y="340.30" font-size="6.8" text-anchor="start" font-weight="bold" fill="#000" stroke="#000">MetSig</text>
<line x1="394.00" y1="374.30" x2="394.00" y2="377.30" stroke="#333" stroke-width="0.8"/>
<text x="394.00" y="387.20" font-size="6.8" text-anchor="middle" fill="#2a2a2a" stroke="#2a2a2a" style="stroke-width:0.08px">0.5</text>
<line x1="416.30" y1="374.30" x2="416.30" y2="377.30" stroke="#333" stroke-width="0.8"/>
<text x="416.30" y="387.20" font-size="6.8" text-anchor="middle" fill="#2a2a2a" stroke="#2a2a2a" style="stroke-width:0.08px">1</text>
<line x1="438.70" y1="374.30" x2="438.70" y2="377.30" stroke="#333" stroke-width="0.8"/>
<text x="438.70" y="387.20" font-size="6.8" text-anchor="middle" fill="#2a2a2a" stroke="#2a2a2a" style="stroke-width:0.08px">2</text>
<line x1="468.90" y1="374.30" x2="468.90" y2="377.30" stroke="#333" stroke-width="0.8"/>
<text x="468.90" y="387.20" font-size="6.8" text-anchor="middle" fill="#2a2a2a" stroke="#2a2a2a" style="stroke-width:0.08px">5</text>
<line x1="491.50" y1="374.30" x2="491.50" y2="377.30" stroke="#333" stroke-width="0.8"/>
<text x="491.50" y="387.20" font-size="6.8" text-anchor="middle" fill="#2a2a2a" stroke="#2a2a2a" style="stroke-width:0.08px">10</text>
<text x="266.6" y="381.3" font-size="5.6" font-style="italic" fill="#3a3a3a" stroke="#3a3a3a" style="stroke-width:0.05px" textLength="31.2" lengthAdjust="spacingAndGlyphs"># Events: 60</text>
<text x="266.2" y="388.4" font-size="5.6" font-style="italic" fill="#3a3a3a" stroke="#3a3a3a" style="stroke-width:0.05px" textLength="96.6" lengthAdjust="spacingAndGlyphs">Global  P value (Log-Rank): 1.1125e-07</text>
<text x="266.2" y="394.8" font-size="5.6" font-style="italic" fill="#3a3a3a" stroke="#3a3a3a" style="stroke-width:0.05px" textLength="94.6" lengthAdjust="spacingAndGlyphs">AIC: 589.92; Concordance Index: 0.71</text>
</svg>
</body></html>
